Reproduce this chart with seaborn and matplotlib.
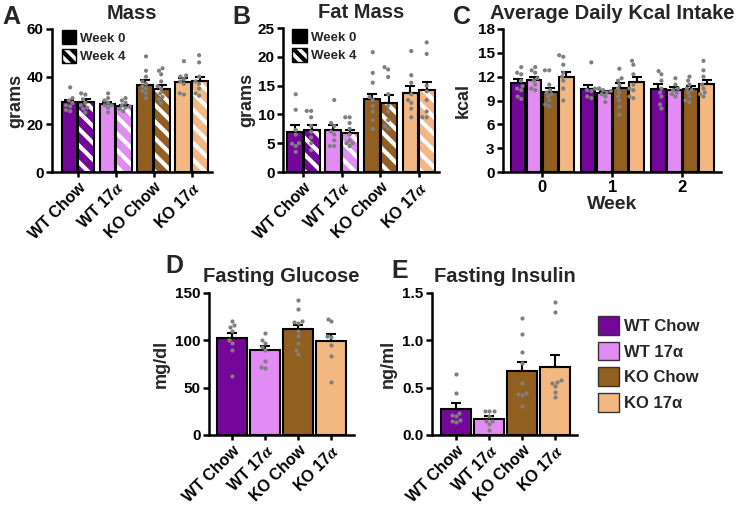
import matplotlib
matplotlib.use("Agg")
import matplotlib.pyplot as plt
from matplotlib.patches import Patch, Rectangle
import seaborn as sns
import pandas as pd

groups = ["WT Chow", "WT 17α", "KO Chow", "KO 17α"]
group_ticks = ["WT Chow", "WT 17$\\alpha$", "KO Chow", "KO 17$\\alpha$"]
group_colors = ["#74069a", "#e28bf4", "#915f20", "#f3b882"]
weeks_ab = ["Week 0", "Week 4"]
weeks_c = ["0", "1", "2"]

# A - body mass (g); rows = week 0 / week 4, columns = groups
mass_mean = [[29.3, 28.5, 36.5, 37.8], [29.5, 27.5, 35.0, 38.0]]
mass_sem = [[1.0, 1.0, 2.0, 1.7], [1.2, 0.7, 1.7, 2.0]]
mass_pts = [
    [[35.5, 31, 30, 29, 28, 27.5, 26, 25.5], [33, 31, 30, 29, 28, 28, 27, 25],
     [48.5, 42.5, 40, 38, 37, 36, 35, 34, 33, 31], [46.5, 40.5, 40, 39, 38, 37, 33, 32.5]],
    [[33, 32.5, 30.5, 29, 28, 27, 26.5, 25], [31, 30, 29, 28, 27.5, 27, 26.5, 25.5],
     [43.5, 42.5, 41, 38, 36, 35, 33, 31.5, 30.5, 29], [49, 46, 40, 38, 37, 35, 33, 32]],
]

# B - fat mass (g)
fat_mean = [[7.0, 7.3, 12.6, 13.8], [7.3, 6.7, 12.0, 14.2]]
fat_sem = [[1.1, 0.9, 1.0, 1.1], [0.9, 0.6, 1.3, 1.5]]
fat_pts = [
    [[13.5, 10.8, 7.3, 6.5, 5.0, 4.9, 4.5, 3.5], [12.5, 8.5, 8.0, 7.0, 6.5, 5.5, 4.5, 4.5],
     [20.8, 17.2, 15.5, 13.0, 12.5, 11.5, 10.5, 9.0, 7.5], [21.0, 16.8, 15.5, 13.5, 12.5, 12.0, 11.0, 9.5]],
    [[10.6, 10.6, 9.5, 8.0, 7.0, 6.0, 5.0, 3.8], [9.5, 9.5, 8.5, 7.5, 6.5, 5.5, 5.0, 5.0, 4.5],
     [18.2, 17.8, 16.5, 13.5, 11.5, 10.5, 9.0, 8.0, 7.5], [22.5, 20.5, 15.0, 14.0, 12.5, 10.5, 9.5, 9.5]],
]

# C - average daily kcal; rows = groups, columns = weeks 0/1/2
kcal_mean = [[11.2, 10.5, 10.5], [11.6, 9.9, 10.3], [10.1, 10.6, 10.5], [12.0, 11.3, 11.1]]
kcal_sem = [[0.45, 0.5, 0.6], [0.35, 0.3, 0.35], [0.5, 0.6, 0.35], [0.6, 0.6, 0.5]]
kcal_pts = [
    [[13.2, 12.5, 12.3, 11.5, 10.8, 10.5, 10.3, 9.5, 9.2], [13.8, 10.5, 10.5, 10.3, 10.2, 9.5, 9.3],
     [12.7, 12.3, 11.5, 10.5, 10.0, 9.5, 8.5, 8.0]],
    [[13.2, 12.8, 12.5, 11.8, 11.5, 11.0, 10.5, 10.3], [10.5, 10.3, 10.2, 10.0, 9.8, 9.5, 8.8],
     [11.8, 11.0, 10.5, 10.3, 10.0, 9.8, 9.5]],
    [[12.8, 12.8, 11.0, 10.3, 10.0, 9.8, 9.5, 9.0, 8.5, 8.3], [13.0, 11.8, 11.5, 11.0, 10.5, 10.0, 9.5, 9.0, 8.2, 7.2],
     [12.0, 11.5, 11.0, 10.5, 10.3, 10.0, 9.5, 9.0, 8.8]],
    [[14.7, 14.5, 13.5, 12.5, 12.0, 11.5, 10.5, 9.0], [14.0, 13.5, 12.3, 11.0, 10.5, 10.3, 9.5, 9.3],
     [14.0, 12.8, 12.0, 11.0, 10.5, 10.0, 9.8, 9.5]],
]

# D - fasting glucose (mg/dl)
glucose_mean = [102, 90, 111.5, 99.5]
glucose_sem = [5.5, 4.5, 5.0, 7.0]
glucose_pts = [[120, 116, 114, 110, 100, 97, 90, 62], [108, 100, 97, 93, 90, 78, 72, 71],
               [143, 133, 120, 119, 118, 110, 105, 97, 90, 86], [123, 120, 105, 103, 95, 83, 56]]

# E - fasting insulin (ng/ml)
insulin_mean = [0.27, 0.17, 0.675, 0.715]
insulin_sem = [0.065, 0.035, 0.10, 0.13]
insulin_pts = [[0.64, 0.44, 0.23, 0.21, 0.20, 0.16, 0.15, 0.14], [0.25, 0.25, 0.25, 0.20, 0.15, 0.15, 0.12, 0.05],
               [1.24, 1.07, 0.88, 0.76, 0.55, 0.44, 0.43, 0.42, 0.31], [1.40, 1.30, 0.58, 0.56, 0.55, 0.52, 0.45, 0.40]]

sns.set_theme(style="ticks")
plt.rcParams["font.family"] = ["Liberation Sans", "DejaVu Sans"]
plt.rcParams["font.weight"] = "bold"
plt.rcParams["axes.labelweight"] = "bold"
plt.rcParams["axes.titleweight"] = "bold"
plt.rcParams["mathtext.fontset"] = "stix"
plt.rcParams["hatch.linewidth"] = 3.0
plt.rcParams["axes.linewidth"] = 1.8
plt.rcParams["xtick.major.width"] = 1.8
plt.rcParams["ytick.major.width"] = 1.8
plt.rcParams["xtick.major.size"] = 3.5
plt.rcParams["ytick.major.size"] = 4
plt.rcParams["xtick.color"] = "black"
plt.rcParams["ytick.color"] = "black"
plt.rcParams["axes.edgecolor"] = "black"

POINT = "#7f7f7f"


def bar_panel(ax, xs, means, sems, pts, width, color_at, hues=None, gap=0.0, hatch_level=None):
    # means[j][i] -> hue level j at x category i
    n = len(hues) if hues else 1
    hue_list = hues if hues else [None]
    summ = pd.DataFrame({"x": xs * n,
                         "hue": [h for h in hue_list for _ in xs],
                         "mean": [m for row in means for m in row]})
    long = pd.DataFrame([(xs[i], hue_list[j], v) for j in range(n) for i in range(len(xs)) for v in pts[j][i]],
                        columns=["x", "hue", "value"])
    if hues:
        sns.barplot(data=summ, x="x", y="mean", hue="hue", order=xs, hue_order=hues, width=width, gap=gap,
                    errorbar=None, edgecolor="black", linewidth=1.5, legend=False, ax=ax)
    else:
        sns.barplot(data=summ, x="x", y="mean", order=xs, width=width, color="white",
                    errorbar=None, edgecolor="black", linewidth=1.5, ax=ax)
    step = width / n
    for p in list(ax.patches):
        cx = p.get_x() + p.get_width() / 2
        i = int(round(cx))
        j = min(n - 1, int((cx - i + width / 2) / step)) if n > 1 else 0
        h = p.get_height()
        p.set_facecolor(color_at(i, j))
        if hatch_level == j:
            p.set_edgecolor("white")
            p.set_linewidth(0)
            p.set_hatch("\\\\")
            ax.add_patch(Rectangle(p.get_xy(), p.get_width(), h, fill=False,
                                   edgecolor="black", linewidth=1.5, zorder=2))
        ax.errorbar(cx, h, yerr=[[0], [sems[j][i]]], fmt="none", ecolor="black",
                    elinewidth=1.5, capsize=3.5, capthick=1.5, zorder=3)
    if hues:
        sns.swarmplot(data=long, x="x", y="value", hue="hue", order=xs, hue_order=hues, dodge=True,
                      palette=[POINT] * n, size=3, legend=False, ax=ax, zorder=5)
    else:
        sns.swarmplot(data=long, x="x", y="value", order=xs, color=POINT, size=3, ax=ax, zorder=5)
    sns.despine(ax=ax)
    ax.set_xlabel("")
    ax.tick_params(axis="both", labelsize=11, pad=2)


def group_xticks(ax):
    ax.set_xticks(range(len(groups)))
    ax.set_xticklabels(group_ticks, rotation=45, ha="right", rotation_mode="anchor", fontsize=11.5)


def week_legend(ax):
    handles = [Patch(facecolor="black", edgecolor="black"),
               Patch(facecolor="white", edgecolor="black", hatch="\\\\\\")]
    ax.legend(handles, weeks_ab, loc="upper left", bbox_to_anchor=(0.06, 0.99), frameon=False,
              borderaxespad=0, borderpad=0, fontsize=9.5, handlelength=1.1, handleheight=1.2,
              handletextpad=0.3, labelspacing=0.35)


W, H = 737, 507
fig = plt.figure(figsize=(W / 100, H / 100), dpi=100)


def px_axes(left, right, top, bottom):
    return fig.add_axes([left / W, 1 - bottom / H, (right - left) / W, (bottom - top) / H])


# A
axA = px_axes(52, 212, 29, 172)
bar_panel(axA, groups, mass_mean, mass_sem, mass_pts, 0.88, lambda i, j: group_colors[i],
          hues=weeks_ab, gap=0.06, hatch_level=1)
axA.set_xlim(-0.68, 3.54)
axA.set_ylim(0, 60)
axA.set_yticks([0, 20, 40, 60])
axA.set_ylabel("grams", fontsize=13, labelpad=2)
axA.set_title("Mass", fontsize=14.5, pad=7)
group_xticks(axA)
week_legend(axA)

# B
axB = px_axes(283, 439, 28, 172)
bar_panel(axB, groups, fat_mean, fat_sem, fat_pts, 0.88, lambda i, j: group_colors[i],
          hues=weeks_ab, gap=0.06, hatch_level=1)
axB.set_xlim(-0.53, 3.52)
axB.set_ylim(0, 25)
axB.set_yticks([0, 5, 10, 15, 20, 25])
axB.set_ylabel("grams", fontsize=13, labelpad=2)
axB.set_title("Fat Mass", fontsize=14.5, pad=7)
group_xticks(axB)
week_legend(axB)

# C
axC = px_axes(503, 721, 29, 172)
bar_panel(axC, weeks_c, kcal_mean, kcal_sem, kcal_pts, 0.92, lambda i, j: group_colors[j],
          hues=groups, gap=0.1)
axC.set_xlim(-0.56, 2.55)
axC.set_ylim(0, 18)
axC.set_yticks(range(0, 19, 3))
axC.set_ylabel("kcal", fontsize=13, labelpad=4)
axC.set_xlabel("Week", fontsize=14, labelpad=1)
axC.set_title("Average Daily Kcal Intake", fontsize=14.5, pad=7)
axC.tick_params(axis="x", labelsize=12)

# D
axD = px_axes(209, 354, 293, 435)
bar_panel(axD, groups, [glucose_mean], [glucose_sem], [glucose_pts], 0.9, lambda i, j: group_colors[i])
axD.set_xlim(-0.70, 3.69)
axD.set_ylim(0, 150)
axD.set_yticks([0, 50, 100, 150])
axD.set_ylabel("mg/dl", fontsize=13, labelpad=4)
axD.set_title("Fasting Glucose", fontsize=14.5, pad=8)
group_xticks(axD)

# E
axE = px_axes(432, 577, 293, 435)
bar_panel(axE, groups, [insulin_mean], [insulin_sem], [insulin_pts], 0.9, lambda i, j: group_colors[i])
axE.set_xlim(-0.73, 3.66)
axE.set_ylim(0, 1.5)
axE.set_yticks([0.0, 0.5, 1.0, 1.5])
axE.set_yticklabels(["0.0", "0.5", "1.0", "1.5"])
axE.set_ylabel("ng/ml", fontsize=13, labelpad=4)
axE.set_title("Fasting Insulin", fontsize=14.5, pad=8)
group_xticks(axE)

fig.legend([Patch(facecolor=c, edgecolor="#333333", linewidth=1) for c in group_colors], groups,
           loc="upper left", bbox_to_anchor=(598 / W, 1 - 316 / H), frameon=False, fontsize=12,
           handlelength=1.25, handleheight=1.35, handletextpad=0.3, labelspacing=0.42,
           borderaxespad=0, borderpad=0)

for letter, x, y in [("A", 11, 17), ("B", 241, 17), ("C", 462, 17), ("D", 174, 266), ("E", 400, 271)]:
    fig.text(x / W, 1 - y / H, letter, fontsize=18, fontweight="bold", ha="center", va="center")

fig.savefig("out.png", dpi=100)
